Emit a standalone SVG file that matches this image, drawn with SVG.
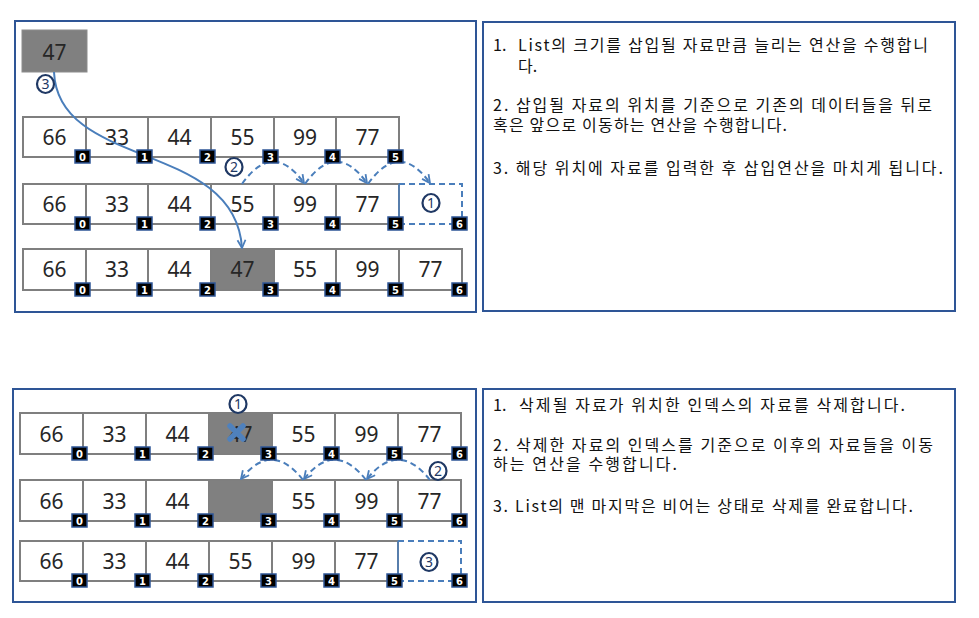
<svg xmlns="http://www.w3.org/2000/svg" width="979" height="618" viewBox="0 0 979 618">
<style>
.bg{fill:#fff}
.panel{fill:#fff;stroke:#2e5596;stroke-width:2}
.cell{fill:#fff;stroke:#7f7f7f;stroke-width:2}
.gcell{fill:#808080;stroke:#7f7f7f;stroke-width:2}
.num{font-family:"Noto Sans","Liberation Sans",sans-serif;font-size:21px;fill:#262626;text-anchor:middle}
.badge{fill:#000;stroke:#2e5596;stroke-width:1.5}
.bt{font-family:"DejaVu Sans","Liberation Sans",sans-serif;font-size:10px;font-weight:bold;fill:#fff;text-anchor:middle}
.txt{font-family:"Noto Sans CJK KR","Noto Sans",sans-serif;font-size:16px;fill:#111}
.conn{fill:none;stroke:#4a7ebb;stroke-width:2}
.dash{stroke-dasharray:6 4}
.ring{fill:#fff;stroke:#1f3864;stroke-width:2.2}
.circ{font-family:"Noto Sans","Liberation Sans",sans-serif;font-size:14px;fill:#1f3864;text-anchor:middle}
.xmark{stroke:#4f81bd;stroke-width:5.5;stroke-linecap:round;fill:none}
</style>
<defs>
<marker id="ah" viewBox="0 0 10 10" refX="9" refY="5" markerWidth="10" markerHeight="10" markerUnits="userSpaceOnUse" orient="auto">
<path d="M1,1 L9,5 L1,9" fill="none" stroke="#4a7ebb" stroke-width="1.8"/>
</marker>
</defs>
<rect class="bg" x="0" y="0" width="979" height="618"/>

<!-- Panels -->
<g id="panel-insert"><rect class="panel" x="15" y="21" width="461" height="291"/></g>
<g id="panel-delete"><rect class="panel" x="13" y="389" width="463" height="213"/></g>

<!-- Insert: new element -->
<g id="ins-new"><rect class="gcell" x="22" y="30" width="65" height="42" style="stroke:#8c8c8c;stroke-width:1"/><text class="num" x="54.5" y="60">47</text></g>

<!-- Insert row A -->
<g id="insA0"><rect class="cell" x="23" y="117" width="63" height="40"/><text class="num" x="54.5" y="145">66</text></g>
<g id="insA1"><rect class="cell" x="86" y="117" width="62" height="40"/><text class="num" x="117" y="145">33</text></g>
<g id="insA2"><rect class="cell" x="148" y="117" width="63" height="40"/><text class="num" x="179.5" y="145">44</text></g>
<g id="insA3"><rect class="cell" x="211" y="117" width="63" height="40"/><text class="num" x="242.5" y="145">55</text></g>
<g id="insA4"><rect class="cell" x="274" y="117" width="62" height="40"/><text class="num" x="305" y="145">99</text></g>
<g id="insA5"><rect class="cell" x="336" y="117" width="63" height="40"/><text class="num" x="367.5" y="145">77</text></g>

<!-- Insert row B -->
<g id="insB0"><rect class="cell" x="23" y="184" width="63" height="40"/><text class="num" x="54.5" y="212">66</text></g>
<g id="insB1"><rect class="cell" x="86" y="184" width="62" height="40"/><text class="num" x="117" y="212">33</text></g>
<g id="insB2"><rect class="cell" x="148" y="184" width="63" height="40"/><text class="num" x="179.5" y="212">44</text></g>
<g id="insB3"><rect class="cell" x="211" y="184" width="63" height="40"/><text class="num" x="242.5" y="212">55</text></g>
<g id="insB4"><rect class="cell" x="274" y="184" width="62" height="40"/><text class="num" x="305" y="212">99</text></g>
<g id="insB5"><rect class="cell" x="336" y="184" width="63" height="40"/><text class="num" x="367.5" y="212">77</text></g>
<g id="insB6"><line x1="399" y1="184" x2="399" y2="224" stroke="#4a7ebb" stroke-width="1.5"/><path class="conn dash" d="M399,184 H462 V224 H399"/></g>

<!-- Insert row C -->
<g id="insC0"><rect class="cell" x="23" y="249" width="63" height="41"/><text class="num" x="54.5" y="277">66</text></g>
<g id="insC1"><rect class="cell" x="86" y="249" width="62" height="41"/><text class="num" x="117" y="277">33</text></g>
<g id="insC2"><rect class="cell" x="148" y="249" width="63" height="41"/><text class="num" x="179.5" y="277">44</text></g>
<g id="insC3"><rect class="gcell" x="211" y="249" width="63" height="41"/><text class="num" x="242.5" y="277">47</text></g>
<g id="insC4"><rect class="cell" x="274" y="249" width="62" height="41"/><text class="num" x="305" y="277">55</text></g>
<g id="insC5"><rect class="cell" x="336" y="249" width="63" height="41"/><text class="num" x="367.5" y="277">99</text></g>
<g id="insC6"><rect class="cell" x="399" y="249" width="63" height="41"/><text class="num" x="430.5" y="277">77</text></g>

<!-- Delete row A -->
<g id="delA0"><rect class="cell" x="20" y="413" width="63" height="41"/><text class="num" x="51.5" y="442">66</text></g>
<g id="delA1"><rect class="cell" x="83" y="413" width="63" height="41"/><text class="num" x="114.5" y="442">33</text></g>
<g id="delA2"><rect class="cell" x="146" y="413" width="63" height="41"/><text class="num" x="177.5" y="442">44</text></g>
<g id="delA3"><rect class="gcell" x="209" y="413" width="63" height="41"/><text class="num" x="240.5" y="442">47</text><path class="xmark" d="M230,426 L243,439 M243,426 L230,439"/></g>
<g id="delA4"><rect class="cell" x="272" y="413" width="63" height="41"/><text class="num" x="303.5" y="442">55</text></g>
<g id="delA5"><rect class="cell" x="335" y="413" width="63" height="41"/><text class="num" x="366.5" y="442">99</text></g>
<g id="delA6"><rect class="cell" x="398" y="413" width="63" height="41"/><text class="num" x="429.5" y="442">77</text></g>

<!-- Delete row B -->
<g id="delB0"><rect class="cell" x="20" y="480" width="63" height="41"/><text class="num" x="51.5" y="509">66</text></g>
<g id="delB1"><rect class="cell" x="83" y="480" width="63" height="41"/><text class="num" x="114.5" y="509">33</text></g>
<g id="delB2"><rect class="cell" x="146" y="480" width="63" height="41"/><text class="num" x="177.5" y="509">44</text></g>
<g id="delB3"><rect class="gcell" x="209" y="480" width="63" height="41"/></g>
<g id="delB4"><rect class="cell" x="272" y="480" width="63" height="41"/><text class="num" x="303.5" y="509">55</text></g>
<g id="delB5"><rect class="cell" x="335" y="480" width="63" height="41"/><text class="num" x="366.5" y="509">99</text></g>
<g id="delB6"><rect class="cell" x="398" y="480" width="63" height="41"/><text class="num" x="429.5" y="509">77</text></g>

<!-- Delete row C -->
<g id="delC0"><rect class="cell" x="20" y="541" width="63" height="40"/><text class="num" x="51.5" y="569">66</text></g>
<g id="delC1"><rect class="cell" x="83" y="541" width="63" height="40"/><text class="num" x="114.5" y="569">33</text></g>
<g id="delC2"><rect class="cell" x="146" y="541" width="63" height="40"/><text class="num" x="177.5" y="569">44</text></g>
<g id="delC3"><rect class="cell" x="209" y="541" width="63" height="40"/><text class="num" x="240.5" y="569">55</text></g>
<g id="delC4"><rect class="cell" x="272" y="541" width="63" height="40"/><text class="num" x="303.5" y="569">99</text></g>
<g id="delC5"><rect class="cell" x="335" y="541" width="63" height="40"/><text class="num" x="366.5" y="569">77</text></g>
<g id="delC6"><line x1="398" y1="541" x2="398" y2="581" stroke="#4a7ebb" stroke-width="1.5"/><path class="conn dash" d="M398,541 H461 V581 H398"/></g>

<!-- Connectors -->
<g id="connectors">
<path class="conn" d="M54,72 C58,170 235,140 242,248" marker-end="url(#ah)"/>
<path class="conn dash" d="M242,184 Q273,140 304,183" marker-end="url(#ah)"/>
<path class="conn dash" d="M305,184 Q336,140 367,183" marker-end="url(#ah)"/>
<path class="conn dash" d="M368,184 Q399,140 430,183" marker-end="url(#ah)"/>
<path class="conn dash" d="M430,480 Q398.5,440 367,479" marker-end="url(#ah)"/>
<path class="conn dash" d="M366,480 Q335,440 304,479" marker-end="url(#ah)"/>
<path class="conn dash" d="M303,480 Q272,440 241,479" marker-end="url(#ah)"/>
</g>

<!-- Index badges -->
<g id="badges">
<rect class="badge" x="75" y="150" width="15" height="13"/><text class="bt" x="82.5" y="161">0</text>
<rect class="badge" x="137" y="150" width="15" height="13"/><text class="bt" x="144.5" y="161">1</text>
<rect class="badge" x="200" y="150" width="15" height="13"/><text class="bt" x="207.5" y="161">2</text>
<rect class="badge" x="263" y="150" width="15" height="13"/><text class="bt" x="270.5" y="161">3</text>
<rect class="badge" x="325" y="150" width="15" height="13"/><text class="bt" x="332.5" y="161">4</text>
<rect class="badge" x="388" y="150" width="15" height="13"/><text class="bt" x="395.5" y="161">5</text>

<rect class="badge" x="75" y="217" width="15" height="13"/><text class="bt" x="82.5" y="228">0</text>
<rect class="badge" x="137" y="217" width="15" height="13"/><text class="bt" x="144.5" y="228">1</text>
<rect class="badge" x="200" y="217" width="15" height="13"/><text class="bt" x="207.5" y="228">2</text>
<rect class="badge" x="263" y="217" width="15" height="13"/><text class="bt" x="270.5" y="228">3</text>
<rect class="badge" x="325" y="217" width="15" height="13"/><text class="bt" x="332.5" y="228">4</text>
<rect class="badge" x="388" y="217" width="15" height="13"/><text class="bt" x="395.5" y="228">5</text>
<rect class="badge" x="452" y="217" width="15" height="13"/><text class="bt" x="459.5" y="228">6</text>

<rect class="badge" x="75" y="283" width="15" height="13"/><text class="bt" x="82.5" y="294">0</text>
<rect class="badge" x="137" y="283" width="15" height="13"/><text class="bt" x="144.5" y="294">1</text>
<rect class="badge" x="200" y="283" width="15" height="13"/><text class="bt" x="207.5" y="294">2</text>
<rect class="badge" x="263" y="283" width="15" height="13"/><text class="bt" x="270.5" y="294">3</text>
<rect class="badge" x="325" y="283" width="15" height="13"/><text class="bt" x="332.5" y="294">4</text>
<rect class="badge" x="388" y="283" width="15" height="13"/><text class="bt" x="395.5" y="294">5</text>
<rect class="badge" x="452" y="283" width="15" height="13"/><text class="bt" x="459.5" y="294">6</text>

<rect class="badge" x="72" y="447" width="15" height="13"/><text class="bt" x="79.5" y="458">0</text>
<rect class="badge" x="135" y="447" width="15" height="13"/><text class="bt" x="142.5" y="458">1</text>
<rect class="badge" x="198" y="447" width="15" height="13"/><text class="bt" x="205.5" y="458">2</text>
<rect class="badge" x="261" y="447" width="15" height="13"/><text class="bt" x="268.5" y="458">3</text>
<rect class="badge" x="324" y="447" width="15" height="13"/><text class="bt" x="331.5" y="458">4</text>
<rect class="badge" x="387" y="447" width="15" height="13"/><text class="bt" x="394.5" y="458">5</text>
<rect class="badge" x="452" y="447" width="15" height="13"/><text class="bt" x="459.5" y="458">6</text>

<rect class="badge" x="72" y="514" width="15" height="13"/><text class="bt" x="79.5" y="525">0</text>
<rect class="badge" x="135" y="514" width="15" height="13"/><text class="bt" x="142.5" y="525">1</text>
<rect class="badge" x="198" y="514" width="15" height="13"/><text class="bt" x="205.5" y="525">2</text>
<rect class="badge" x="261" y="514" width="15" height="13"/><text class="bt" x="268.5" y="525">3</text>
<rect class="badge" x="324" y="514" width="15" height="13"/><text class="bt" x="331.5" y="525">4</text>
<rect class="badge" x="387" y="514" width="15" height="13"/><text class="bt" x="394.5" y="525">5</text>
<rect class="badge" x="452" y="514" width="15" height="13"/><text class="bt" x="459.5" y="525">6</text>

<rect class="badge" x="72" y="574" width="15" height="13"/><text class="bt" x="79.5" y="585">0</text>
<rect class="badge" x="135" y="574" width="15" height="13"/><text class="bt" x="142.5" y="585">1</text>
<rect class="badge" x="198" y="574" width="15" height="13"/><text class="bt" x="205.5" y="585">2</text>
<rect class="badge" x="261" y="574" width="15" height="13"/><text class="bt" x="268.5" y="585">3</text>
<rect class="badge" x="324" y="574" width="15" height="13"/><text class="bt" x="331.5" y="585">4</text>
<rect class="badge" x="387" y="574" width="15" height="13"/><text class="bt" x="394.5" y="585">5</text>
<rect class="badge" x="452" y="574" width="15" height="13"/><text class="bt" x="459.5" y="585">6</text>
</g>

<!-- Step labels -->
<g id="label-ins-3"><ellipse class="ring" cx="45.5" cy="84" rx="8.5" ry="9"/><text class="circ" x="45.5" y="89">3</text></g>
<g id="label-ins-2"><ellipse class="ring" cx="234" cy="167" rx="8.5" ry="9"/><text class="circ" x="234" y="172">2</text></g>
<g id="label-ins-1"><ellipse class="ring" cx="431" cy="203" rx="8.5" ry="9"/><text class="circ" x="431" y="208">1</text></g>
<g id="label-del-1"><ellipse class="ring" cx="238" cy="404" rx="8.5" ry="9"/><text class="circ" x="238" y="409">1</text></g>
<g id="label-del-2"><ellipse class="ring" cx="438" cy="471" rx="8.5" ry="9"/><text class="circ" x="438" y="476">2</text></g>
<g id="label-del-3"><ellipse class="ring" cx="429" cy="562" rx="8.5" ry="9"/><text class="circ" x="429" y="567">3</text></g>

<!-- Text panels -->
<g id="text-insert">
<rect class="panel" x="483" y="22" width="472" height="289"/>
<text class="txt" x="493" y="51">1.</text>
<text class="txt" x="518" y="51" textLength="410" lengthAdjust="spacing">List의 크기를 삽입될 자료만큼 늘리는 연산을 수행합니</text>
<text class="txt" x="518" y="72">다.</text>
<text class="txt" x="493" y="111" textLength="439" lengthAdjust="spacing">2. 삽입될 자료의 위치를 기준으로 기존의 데이터들을 뒤로</text>
<text class="txt" x="493" y="131" textLength="294" lengthAdjust="spacing">혹은 앞으로 이동하는 연산을 수행합니다.</text>
<text class="txt" x="493" y="174" textLength="450" lengthAdjust="spacing">3. 해당 위치에 자료를 입력한 후 삽입연산을 마치게 됩니다.</text>
</g>
<g id="text-delete">
<rect class="panel" x="483" y="389" width="472" height="213"/>
<text class="txt" x="493" y="411">1.</text>
<text class="txt" x="519" y="411" textLength="386" lengthAdjust="spacing">삭제될 자료가 위치한 인덱스의 자료를 삭제합니다.</text>
<text class="txt" x="493" y="451" textLength="440" lengthAdjust="spacing">2. 삭제한 자료의 인덱스를 기준으로 이후의 자료들을 이동</text>
<text class="txt" x="493" y="470" textLength="184" lengthAdjust="spacing">하는 연산을 수행합니다.</text>
<text class="txt" x="493" y="512" textLength="420" lengthAdjust="spacing">3. List의 맨 마지막은 비어는 상태로 삭제를 완료합니다.</text>
</g>
</svg>
